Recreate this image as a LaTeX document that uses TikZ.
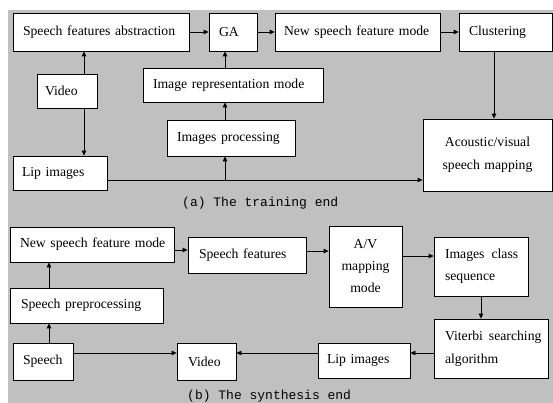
\documentclass[tikz,border=0pt]{standalone}
\usepackage{fontspec}
\setmainfont{Liberation Serif}
\newfontfamily\capfont{Liberation Mono}
\usetikzlibrary{arrows.meta}
\definecolor{bggray}{RGB}{192,192,192}
\tikzset{
  box/.style={draw=black, fill=white, line width=0.8pt, inner xsep=10pt, inner ysep=0pt,
    align=left, font=\fontsize{13.7}{17}\selectfont},
  cbox/.style={box, align=center},
  arr/.style={line width=0.8pt, -{Triangle[length=5pt,width=4.5pt]}},
  captext/.style={inner sep=0pt, anchor=base west, font=\capfont\fontsize{13}{15}\selectfont}
}
\begin{document}
\begin{tikzpicture}[x=1pt,y=-1pt]
\useasboundingbox (0,0) rectangle (553,403);
\fill[bggray] (8,10) rectangle (553,403);
% training end
\node[box, text width=156pt, minimum height=38pt] (sfa) at (101,32) {\mbox{Speech features abstraction}};
\node[box, text width=28pt, minimum height=38pt] (ga) at (233,32) {GA};
\node[box, inner xsep=9pt, text width=147pt, minimum height=38pt] (nsfm) at (357.5,32) {\mbox{New speech feature mode}};
\node[box, text width=73pt, minimum height=38pt] (clus) at (505.5,32) {Clustering};
\node[box, inner xsep=8pt, text width=44pt, minimum height=34pt] (video) at (67,91) {Video};
\node[box, text width=160pt, minimum height=34pt] (irm) at (233,85) {\mbox{Image representation mode}};
\node[box, text width=108pt, minimum height=36pt] (ip) at (231,138) {\mbox{Images processing}};
\node[box, inner xsep=9pt, text width=76pt, minimum height=34pt] (lip) at (60,173) {\mbox{Lip images}};
\node[cbox, text width=109pt, minimum height=72pt] (acm) at (487.5,155) {Acoustic/visual\\[6pt]speech mapping};
\node[captext] (capa) at (182,207) {(a) The training end};
\coordinate (xv) at (84,0);
\coordinate (xg) at (225,0);
\coordinate (xc) at (494,0);
\coordinate (yl) at (0,180);
\draw[arr] (sfa) -- (ga);
\draw[arr] (ga) -- (nsfm);
\draw[arr] (nsfm) -- (clus);
\draw[arr] (video.north -| xv) -- (sfa.south -| xv);
\draw[arr] (video.south -| xv) -- (lip.north -| xv);
\draw[arr] (irm.north -| xg) -- (ga.south -| xg);
\draw[arr] (ip.north -| xg) -- (irm.south -| xg);
\draw[arr] (clus.south -| xc) -- (acm.north -| xc);
\draw[arr] (lip.east |- yl) -- (acm.west |- yl);
\draw[arr] (xg |- yl) -- (ip.south -| xg);
% synthesis end
\node[box, text width=144pt, minimum height=35pt] (nsfm2) at (92,244.5) {\mbox{New speech feature mode}};
\node[box, inner xsep=11pt, text width=131pt, minimum height=35pt] (spp) at (86.5,305.5) {\mbox{Speech preprocessing}};
\node[box, text width=40pt, minimum height=37pt] (speech) at (43,361.5) {Speech};
\node[box, inner xsep=11pt, text width=37pt, minimum height=37pt] (video2) at (206.5,361.5) {Video};
\node[box, inner xsep=11pt, text width=96pt, minimum height=36pt] (sf) at (247,255) {\mbox{Speech features}};
\node[cbox, inner xsep=4pt, text width=65pt, minimum height=81pt] (av) at (365.5,266.5) {A/V\\[5pt]mapping\\[5pt]mode};
\node[box, inner xsep=11pt, text width=72pt, minimum height=59pt] (ics) at (481,266.5) {\mbox{Images\hspace{7pt}class}\\[5pt]sequence};
\node[box, inner xsep=11pt, text width=92pt, minimum height=59pt] (vit) at (491,348.5) {\mbox{Viterbi\hspace{6pt}searching}\\[6pt]algorithm};
\node[box, inner xsep=9pt, text width=74pt, minimum height=35pt] (lip2) at (364,360.5) {\mbox{Lip images}};
\node[captext] (capb) at (187,399) {(b) The synthesis end};
\coordinate (xs) at (49,0);
\coordinate (y1) at (0,250);
\coordinate (y2) at (0,251);
\coordinate (y3) at (0,256);
\coordinate (y4) at (0,353);
\draw[arr] (speech.north -| xs) -- (spp.south -| xs);
\draw[arr] (spp.north -| xs) -- (nsfm2.south -| xs);
\draw[arr] (nsfm2.east |- y1) -- (sf.west |- y1);
\draw[arr] (sf.east |- y2) -- (av.west |- y2);
\draw[arr] (av.east |- y3) -- (ics.west |- y3);
\draw[arr] (ics.south) -- (vit.north -| ics.south);
\draw[arr] (vit.west |- y4) -- (lip2.east |- y4);
\draw[arr] (lip2.west |- y4) -- (video2.east |- y4);
\draw[arr] (speech.east |- y4) -- (video2.west |- y4);
\end{tikzpicture}
\end{document}
